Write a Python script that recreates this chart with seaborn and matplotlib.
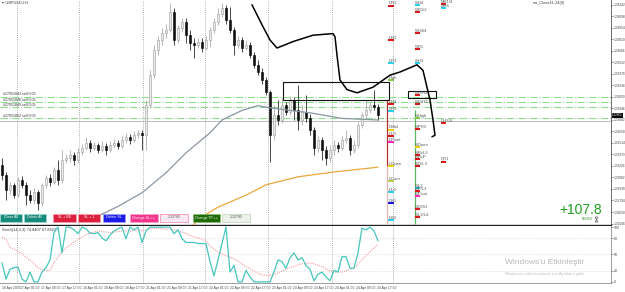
import numpy as np
import pandas as pd
import seaborn as sns
import matplotlib.pyplot as plt
from matplotlib.patches import Rectangle, Polygon
from matplotlib.transforms import blended_transform_factory

sns.set_style("white")
plt.rcParams["font.family"] = ["Liberation Sans", "DejaVu Sans"]

# GBPUSD H1 candles, oldest first
opens = [1.3224, 1.3211, 1.3192, 1.3199, 1.3186, 1.3205, 1.3199, 1.3186, 1.3180, 1.3190,
         1.3176, 1.3199, 1.3208, 1.3202, 1.3218, 1.3205, 1.3230, 1.3232, 1.3236, 1.3230,
         1.3240, 1.3245, 1.3251, 1.3245, 1.3249, 1.3242, 1.3248, 1.3242, 1.3249, 1.3251,
         1.3248, 1.3255, 1.3259, 1.3255, 1.3261, 1.3264, 1.3261, 1.3299, 1.3336, 1.3368,
         1.3380, 1.3389, 1.3392, 1.3415, 1.3380, 1.3395, 1.3402, 1.3386, 1.3376, 1.3374,
         1.3378, 1.3370, 1.3380, 1.3392, 1.3402, 1.3412, 1.3420, 1.3405, 1.3392, 1.3374,
         1.3380, 1.3370, 1.3374, 1.3361, 1.3349, 1.3340, 1.3330, 1.3315, 1.3261, 1.3286,
         1.3280, 1.3299, 1.3290, 1.3305, 1.3292, 1.3280, 1.3290, 1.3282, 1.3268, 1.3245,
         1.3255, 1.3242, 1.3232, 1.3242, 1.3249, 1.3245, 1.3255, 1.3258, 1.3242, 1.3249,
         1.3274, 1.3286, 1.3292, 1.3299, 1.3296]
highs = [1.3232, 1.3215, 1.3202, 1.3201, 1.3209, 1.3210, 1.3202, 1.3192, 1.3195, 1.3192,
         1.3201, 1.3211, 1.3212, 1.3221, 1.3230, 1.3242, 1.3238, 1.3242, 1.3240, 1.3245,
         1.3250, 1.3259, 1.3255, 1.3252, 1.3251, 1.3254, 1.3251, 1.3254, 1.3256, 1.3255,
         1.3260, 1.3264, 1.3262, 1.3266, 1.3268, 1.3268, 1.3305, 1.3342, 1.3374, 1.3385,
         1.3395, 1.3400, 1.3426, 1.3420, 1.3399, 1.3408, 1.3408, 1.3392, 1.3382, 1.3382,
         1.3382, 1.3385, 1.3396, 1.3408, 1.3420, 1.3426, 1.3424, 1.3421, 1.3396, 1.3385,
         1.3384, 1.3380, 1.3378, 1.3365, 1.3355, 1.3345, 1.3334, 1.3318, 1.3299, 1.3305,
         1.3308, 1.3302, 1.3310, 1.3309, 1.3324, 1.3299, 1.3311, 1.3288, 1.3271, 1.3260,
         1.3259, 1.3248, 1.3249, 1.3255, 1.3252, 1.3260, 1.3268, 1.3261, 1.3255, 1.3278,
         1.3290, 1.3305, 1.3302, 1.3318, 1.3300]
lows = [1.3205, 1.3180, 1.3188, 1.3182, 1.3184, 1.3195, 1.3174, 1.3176, 1.3175, 1.3168,
        1.3172, 1.3195, 1.3198, 1.3200, 1.3199, 1.3201, 1.3226, 1.3228, 1.3224, 1.3226,
        1.3236, 1.3242, 1.3240, 1.3242, 1.3239, 1.3240, 1.3236, 1.3240, 1.3245, 1.3244,
        1.3245, 1.3251, 1.3250, 1.3252, 1.3258, 1.3242, 1.3242, 1.3295, 1.3332, 1.3361,
        1.3374, 1.3382, 1.3390, 1.3374, 1.3376, 1.3390, 1.3376, 1.3368, 1.3358, 1.3370,
        1.3365, 1.3368, 1.3371, 1.3389, 1.3399, 1.3409, 1.3400, 1.3389, 1.3361, 1.3370,
        1.3365, 1.3368, 1.3358, 1.3345, 1.3336, 1.3325, 1.3311, 1.3228, 1.3255, 1.3274,
        1.3276, 1.3286, 1.3286, 1.3280, 1.3268, 1.3274, 1.3278, 1.3261, 1.3236, 1.3240,
        1.3230, 1.3224, 1.3228, 1.3236, 1.3240, 1.3242, 1.3251, 1.3236, 1.3239, 1.3245,
        1.3270, 1.3282, 1.3289, 1.3292, 1.3280]
closes = [1.3211, 1.3192, 1.3199, 1.3186, 1.3205, 1.3199, 1.3186, 1.3180, 1.3190, 1.3176,
          1.3199, 1.3208, 1.3202, 1.3218, 1.3205, 1.3230, 1.3232, 1.3236, 1.3230, 1.3240,
          1.3245, 1.3251, 1.3245, 1.3249, 1.3242, 1.3248, 1.3242, 1.3249, 1.3251, 1.3248,
          1.3255, 1.3259, 1.3255, 1.3261, 1.3264, 1.3261, 1.3299, 1.3336, 1.3368, 1.3380,
          1.3389, 1.3392, 1.3415, 1.3380, 1.3395, 1.3402, 1.3386, 1.3376, 1.3374, 1.3378,
          1.3370, 1.3380, 1.3392, 1.3402, 1.3412, 1.3420, 1.3405, 1.3392, 1.3374, 1.3380,
          1.3370, 1.3374, 1.3361, 1.3349, 1.3340, 1.3330, 1.3315, 1.3261, 1.3286, 1.3280,
          1.3299, 1.3290, 1.3305, 1.3292, 1.3280, 1.3290, 1.3282, 1.3268, 1.3245, 1.3255,
          1.3242, 1.3232, 1.3242, 1.3249, 1.3245, 1.3255, 1.3258, 1.3242, 1.3249, 1.3274,
          1.3286, 1.3292, 1.3299, 1.3296, 1.3286]

# moving averages / projection curve (bar index, price)
ma_gray_x = [24, 29, 35, 41, 46, 52, 55, 60, 64, 66, 72, 77, 85, 94]
ma_gray_y = [1.3160, 1.3172, 1.3189, 1.3214, 1.3239, 1.3264, 1.3280, 1.3292, 1.3298,
             1.3296, 1.3292, 1.3289, 1.3282, 1.3280]
ma_orange_x = [47, 50, 54, 61, 66, 74, 83, 94]
ma_orange_y = [1.3145, 1.3159, 1.3171, 1.3186, 1.3199, 1.3209, 1.3215, 1.3221]
proj_x = [62.5, 65, 67, 68.75, 72.75, 77.75, 82.75, 83.25, 83.75, 84.5, 86.25, 88.75,
          92.75, 97, 99.5, 103.75, 105.25, 107, 107.75, 108.25, 107.5]
proj_y = [1.3424, 1.3399, 1.3380, 1.3370, 1.3378, 1.3386, 1.3388, 1.3384, 1.3361, 1.3330,
          1.3318, 1.3314, 1.3321, 1.3336, 1.3340, 1.3349, 1.3342, 1.3305, 1.3280, 1.3261,
          1.3259]

# stochastic (14,3,3)
stoch_k = [35, 5, 23, 26, 27, 5, 0, 18, 0, 0, 18, 26, 40, 90, 100, 53, 100, 100, 95, 88,
           100, 97, 89, 88, 90, 80, 75, 85, 93, 97, 100, 79, 100, 95, 100, 72, 93, 100, 100, 100,
           100, 100, 100, 88, 95, 79, 72, 72, 72, 70, 70, 70, 37, 11, 40, 70, 100, 18, 30, 0,
           0, 21, 9, 0, 0, 0, 0, 0, 18, 40, 37, 25, 44, 53, 40, 44, 30, 23, 2, 14,
           18, 9, 2, 21, 18, 46, 46, 25, 25, 53, 98, 95, 100, 93, 75]
stoch_d = [82, 78, 63, 60, 55, 52, 45, 40, 33, 26, 22, 21, 21, 35, 45, 55, 62, 67, 73, 77,
           82, 86, 89, 91, 93, 92, 91, 90, 91, 92, 93, 93, 93, 94, 95, 93, 95, 97, 98, 98,
           97, 96, 96, 95, 93, 91, 88, 85, 82, 80, 78, 74, 66, 60, 55, 50, 48, 45, 42, 38,
           33, 28, 24, 20, 16, 13, 12, 12, 14, 16, 20, 23, 26, 28, 31, 33, 33, 35, 33, 30,
           28, 23, 20, 18, 18, 18, 20, 23, 25, 33, 40, 48, 55, 62, 68]

# open orders
order_prices = [1.3309, 1.3302, 1.3296, 1.3282]
order_texts = ["#27051843 sell 0.05", "#27051846 sell 0.05", "#27051849 sell 0.05",
               "#27051852 sell 0.05"]
bid_price = 1.3279
last_price_label = "1.32862"

# pivot levels: daily / weekly / monthly columns
daily_names = ["DR3", "DR2", "DR1", "High", "DH4", "DH3", "DMid", "DL3", "DPivot", "DOpen",
               "DCam", "DL4", "DS1", "DS2"]
daily_prices = [1.3423, 1.3380, 1.3351, 1.3330, 1.3300, 1.3291, 1.3268, 1.3260, 1.3252,
                1.3222, 1.3204, 1.3190, 1.3176, 1.3155]
daily_colors = ["#e01010", "#e01010", "#20d0f0", "#80cc40", "#e01010", "#20d0f0", "#f0d000",
                "#e01010", "#ff20c0", "#f0d000", "#b0d040", "#20d0f0", "#1010e0", "#20d0f0"]
weekly_names = ["WH4", "WR1/2", "WH3/4", "WR1", "WH3", "WR/H3", "WO/H3", "WHigh", "WPH3",
                "WOpen", "WRcL3", "WRcP", "WO/L3", "WL3", "WP/L3", "WPivot", "WO/S1", "WL3/L4"]
weekly_prices = [1.3424, 1.3415, 1.3389, 1.3369, 1.3351, 1.3311, 1.3300, 1.3282, 1.3269,
                 1.3246, 1.3236, 1.3231, 1.3222, 1.3195, 1.3191, 1.3185, 1.3169, 1.3159]
weekly_colors = ["#20d0f0", "#e01010", "#e01010", "#e01010", "#20d0f0", "#e01010", "#e01010",
                 "#80cc40", "#e01010", "#f0d000", "#e01010", "#e01010", "#e01010", "#20d0f0",
                 "#e01010", "#ff20c0", "#e01010", "#e01010"]
month_names = ["MH1/4", "MH4", "QH3/4", "QR1"]
month_prices = [1.3425, 1.3420, 1.3276, 1.3228]
month_colors = ["#e01010", "#20d0f0", "#e01010", "#e01010"]

price_ticks = [1.34242, 1.34098, 1.33954, 1.33810, 1.33666, 1.33522, 1.33378, 1.33234,
               1.33090, 1.32946, 1.32802, 1.32658, 1.32514, 1.32370, 1.32226, 1.32082,
               1.31938, 1.31794, 1.31650, 1.31506]
day_separators = [3.75, 19.25, 35.25, 50.75, 66.5, 82.5, 97.75]
time_ticks = [0, 4.5, 9.75, 15, 20.25, 25.5, 30.75, 36, 41.25, 46.5, 51.75, 57, 62.25,
              67.5, 72.75, 78, 83.25, 88.5, 93.75]
time_labels = ["16 Apr 2025", "17 Apr 01:00", "17 Apr 09:00", "17 Apr 17:00", "18 Apr 01:00",
               "18 Apr 09:00", "18 Apr 17:00", "21 Apr 01:00", "21 Apr 09:00", "21 Apr 17:00",
               "22 Apr 01:00", "22 Apr 09:00", "22 Apr 17:00", "23 Apr 01:00", "23 Apr 09:00",
               "23 Apr 17:00", "24 Apr 01:00", "24 Apr 09:00", "24 Apr 17:00"]

fig = plt.figure(figsize=(6.25, 2.92), dpi=100)
W, H = 625, 292
ax = fig.add_axes([0, 67 / H, 611 / W, 225 / H])
axs = fig.add_axes([0, 9 / H, 611 / W, 57 / H])
xlim = (-0.5, 152.25)

# ---- price panel
df = pd.DataFrame({"o": opens, "h": highs, "l": lows, "c": closes})
df["x"] = np.arange(len(df))
up = df["c"] >= df["o"]
ax.vlines(df["x"], df["l"], df["h"], colors=np.where(up, "#9a9a9a", "#000000"), lw=0.5, zorder=3)
body = (df["c"] - df["o"]).abs().clip(lower=0.00008)
ax.bar(df["x"], body, bottom=df[["o", "c"]].min(axis=1), width=0.6,
       color=np.where(up, "#ececec", "#111111"), edgecolor=np.where(up, "#9a9a9a", "#000000"),
       linewidth=0.4, zorder=4)

sns.lineplot(x=ma_gray_x, y=ma_gray_y, ax=ax, color="#8a96a4", lw=0.9, zorder=5)
sns.lineplot(x=ma_orange_x, y=ma_orange_y, ax=ax, color="#eaa83c", lw=0.9, zorder=5)
sns.lineplot(x=proj_x, y=proj_y, ax=ax, color="#000000", lw=1.1, sort=False, zorder=6)

for sep in day_separators:
    ax.axvline(sep, color="#9a9a9a", ls=(0, (1, 1.5)), lw=0.6, zorder=1)
    axs.axvline(sep, color="#9a9a9a", ls=(0, (1, 1.5)), lw=0.6, zorder=1)

for p, t in zip(order_prices, order_texts):
    ax.axhline(p, color="#8fdc8f", ls="-.", lw=0.8, zorder=2)
    ax.text(0.3, p + 0.00006, t, fontsize=2.6, color="#333333", va="bottom", zorder=7)
ax.axhline(bid_price, color="#b0b0b0", lw=0.6, zorder=2)

ax.add_patch(Rectangle((70.25, 1.3305), 26.5, 0.00225, fill=False, ec="#111111", lw=0.8, zorder=6))
ax.add_patch(Rectangle((101.5, 1.3308), 7.0, 0.0008, fill=False, ec="#111111", lw=0.8, zorder=6))

ax.vlines(96.25, 1.3222, 1.3305, color="#b03030", lw=0.9, zorder=3)
ax.vlines(96.25, 1.3150, 1.3222, color="#e8b4b4", lw=0.9, zorder=3)
ax.vlines(103.25, 1.3150, 1.3292, color="#5cb85c", lw=0.9, zorder=3)

for col_x, names, prices, colors in [(96.6, daily_names, daily_prices, daily_colors),
                                     (103.3, weekly_names, weekly_prices, weekly_colors),
                                     (109.7, month_names, month_prices, month_colors)]:
    for n, p, col in zip(names, prices, colors):
        ax.hlines(p, col_x, col_x + 1.3, color=col, lw=1.4, zorder=7)
        ax.text(col_x, p + 0.00003, n, fontsize=3.0, color="#555555", va="bottom", zorder=7)

ax.set_xlim(*xlim)
ax.set_ylim(1.3430 - 0.028125, 1.3430)
ax.yaxis.tick_right()
ax.set_yticks(price_ticks)
ax.set_yticklabels([f"{v:.5f}" for v in price_ticks], fontsize=2.3, color="#444444")
ax.tick_params(axis="y", length=1.5, width=0.4, pad=0.5, colors="#444444")
ax.set_xticks([])
for s in ["left", "top"]:
    ax.spines[s].set_visible(False)
ax.spines["right"].set_color("#555555")
ax.spines["right"].set_linewidth(0.6)
ax.spines["bottom"].set_color("#222222")
ax.spines["bottom"].set_linewidth(1.0)

tr = blended_transform_factory(ax.transAxes, ax.transData)
ax.text(1.002, closes[-1], last_price_label, transform=tr, fontsize=2.2, color="white",
        va="center", ha="left", bbox=dict(boxstyle="square,pad=0.15", fc="#000000", ec="none"),
        zorder=9, clip_on=False)
ax.text(0.004, 0.995, "\u25be GBPUSD,H1", transform=ax.transAxes, fontsize=2.8,
        color="#444444", va="top", family=["DejaVu Sans"])
ax.text(0.925, 0.995, "ma_Close41-24(8)", transform=ax.transAxes, fontsize=2.8,
        color="#444444", va="top", ha="right")

# ---- stochastic panel
sns.lineplot(x=np.arange(len(stoch_d)), y=stoch_d, ax=axs, color="#f49a9a", lw=0.8,
             linestyle=(0, (1, 1)), zorder=3)
sns.lineplot(x=np.arange(len(stoch_k)), y=stoch_k, ax=axs, color="#45c6bc", lw=0.9, zorder=4)
for lvl in [20, 50, 80]:
    axs.axhline(lvl, color="#c8c8c8", ls=(0, (1, 2)), lw=0.5, zorder=1)
axs.set_xlim(*xlim)
axs.set_ylim(-2, 102)
axs.yaxis.tick_right()
axs.set_yticks([0, 20, 50, 80, 100])
axs.set_yticklabels(["0", "20", "50", "80", "100"], fontsize=2.5, color="#444444")
axs.tick_params(axis="y", length=1.5, width=0.4, pad=0.5, colors="#444444")
axs.set_xticks(time_ticks)
axs.set_xticklabels(time_labels, fontsize=2.4, color="#444444", ha="left")
axs.tick_params(axis="x", length=1.5, width=0.4, pad=0.8, colors="#444444")
for s in ["left", "top"]:
    axs.spines[s].set_visible(False)
for s in ["right", "bottom"]:
    axs.spines[s].set_color("#777777")
    axs.spines[s].set_linewidth(0.5)
axs.set_ylabel("")
ax.set_ylabel("")
axs.text(0.003, 0.97, "Stoch(14,3,3) 74.8407 67.8423", transform=axs.transAxes,
         fontsize=2.8, color="#333333", va="top")

# ---- trade panel buttons (figure pixels)
buttons = [("Close All", 0, 22, "#168a7c", "white", "#9fd6cf"),
           ("Delete All", 24, 46, "#168a7c", "white", "#9fd6cf"),
           ("SL + BE", 53, 76, "#dc1f3c", "white", "#f3a0ac"),
           ("SL + 1", 78, 100, "#dc1f3c", "white", "#f3a0ac"),
           ("Delete SL", 103, 125, "#1b1bea", "white", "#a0a0f0"),
           ("Change SL ++", 130, 158, "#f2368f", "white", "#f7a0c8"),
           ("1.33785", 160, 188, "#fbe8f0", "#555555", "#f27fb0"),
           ("Change TP ++", 193, 220, "#1e6b06", "white", "#8fc07a"),
           ("1.32785", 222, 250, "#eef3ea", "#555555", "#bcd4b0")]
for label, x0, x1, fc, tc, ec in buttons:
    fig.add_artist(Rectangle((x0 / W, 1 - 221.5 / H), (x1 - x0) / W, 8 / H,
                             transform=fig.transFigure, fc=fc, ec=ec, lw=0.5, zorder=10))
    fig.text((x0 + x1) / 2 / W, 1 - 217.5 / H, label, fontsize=2.6, color=tc,
             ha="center", va="center", zorder=11)

fig.text(602 / W, 1 - 210 / H, "+107.8", fontsize=10, color="#1f9a1f", ha="right", va="center")
fig.text(593 / W, 1 - 219.5 / H, "00:03", fontsize=3.2, color="#2a8a2a", ha="right", va="center")
# small hourglass icon after the timer
hx, hy = 595 / W, 1 - 219.5 / H
fig.add_artist(Polygon([(hx, hy + 2.5 / H), (hx + 3 / W, hy + 2.5 / H), (hx, hy - 2.5 / H),
                        (hx + 3 / W, hy - 2.5 / H)], closed=True, transform=fig.transFigure,
                       fc="none", ec="#444444", lw=0.4))
fig.text(505 / W, 1 - 262 / H, "Windows'u Etkinle\u015ftir", fontsize=6, color="#b8b8b8",
         va="center")
fig.text(505 / W, 1 - 274 / H, "Windows'u etkinle\u015ftirmek i\u00e7in Ayarlar'a gidin.",
         fontsize=3, color="#c0c0c0", va="center")

fig.savefig("out.png", dpi=100)
